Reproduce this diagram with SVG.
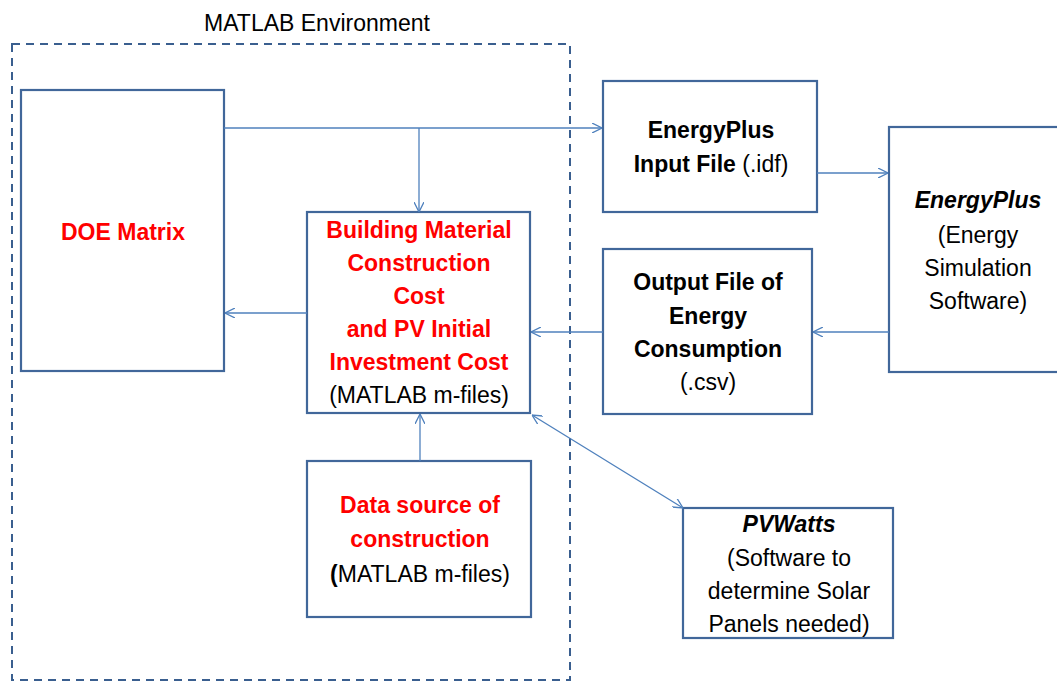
<svg xmlns="http://www.w3.org/2000/svg" width="1057" height="681" viewBox="0 0 1057 681">
<defs>
<marker id="ah" viewBox="0 0 10 10" refX="10" refY="5" markerWidth="10" markerHeight="10" markerUnits="userSpaceOnUse" orient="auto-start-reverse">
<path d="M0,0 L10,5 L0,10" fill="none" stroke="#4F81BD" stroke-width="1.3"/>
</marker>
<style>
.box{fill:#fff;stroke:#41679A;stroke-width:2.2}
.env{fill:none;stroke:#3A5F8F;stroke-width:2;stroke-dasharray:8,6}
.c{fill:none;stroke:#4F81BD;stroke-width:1.3}
text{font-family:"Liberation Sans",Arial,sans-serif;font-size:23px;text-anchor:middle;fill:#000}
.b{font-weight:bold}
.r{fill:#FF0000;font-weight:bold}
.bi{font-weight:bold;font-style:italic}
</style>
</defs>
<rect id="background" width="1057" height="681" fill="#fff"/>
<g id="matlab-env">
<rect class="env" x="12" y="44" width="558" height="636"/>
<text x="317" y="31">MATLAB Environment</text>
</g>
<g id="doe-matrix">
<rect class="box" x="21" y="90" width="203" height="281"/>
<text class="r" x="123" y="240">DOE Matrix</text>
</g>
<g id="building-cost">
<rect class="box" x="307" y="212" width="223" height="201"/>
<text class="r" x="419" y="238">Building Material</text>
<text class="r" x="419" y="271">Construction</text>
<text class="r" x="419" y="304">Cost</text>
<text class="r" x="419" y="337">and PV Initial</text>
<text class="r" x="419" y="370">Investment Cost</text>
<text x="419" y="403">(MATLAB m-files)</text>
</g>
<g id="data-source">
<rect class="box" x="307" y="461" width="224" height="156"/>
<text class="r" x="420" y="513">Data source of</text>
<text class="r" x="420" y="547">construction</text>
<text x="420" y="582"><tspan class="b">(</tspan>MATLAB m-files)</text>
</g>
<g id="input-file">
<rect class="box" x="603" y="81" width="214" height="131"/>
<text class="b" x="711" y="138">EnergyPlus</text>
<text x="711" y="172"><tspan class="b">Input File</tspan> (.idf)</text>
</g>
<g id="output-file">
<rect class="box" x="603" y="249" width="209" height="165"/>
<text class="b" x="708" y="290">Output File of</text>
<text class="b" x="708" y="324">Energy</text>
<text class="b" x="708" y="357">Consumption</text>
<text x="708" y="390">(.csv)</text>
</g>
<g id="energyplus">
<rect class="box" x="889" y="127" width="180" height="245"/>
<text class="bi" x="978" y="208">EnergyPlus</text>
<text x="978" y="243">(Energy</text>
<text x="978" y="276">Simulation</text>
<text x="978" y="309">Software)</text>
</g>
<g id="pvwatts">
<rect class="box" x="683" y="508" width="210" height="130"/>
<text class="bi" x="789" y="532">PVWatts</text>
<text x="789" y="566">(Software to</text>
<text x="789" y="599">determine Solar</text>
<text x="789" y="632">Panels needed)</text>
</g>
<g id="connectors">
<path class="c" d="M224,128 H602" marker-end="url(#ah)"/>
<path class="c" d="M419,128 V212" marker-end="url(#ah)"/>
<path class="c" d="M307,313 H225" marker-end="url(#ah)"/>
<path class="c" d="M817,173 H888" marker-end="url(#ah)"/>
<path class="c" d="M889,332 H813" marker-end="url(#ah)"/>
<path class="c" d="M603,332 H531" marker-end="url(#ah)"/>
<path class="c" d="M420,461 V414" marker-end="url(#ah)"/>
<path class="c" d="M532,415 L683,508" marker-start="url(#ah)" marker-end="url(#ah)"/>
</g>
</svg>
